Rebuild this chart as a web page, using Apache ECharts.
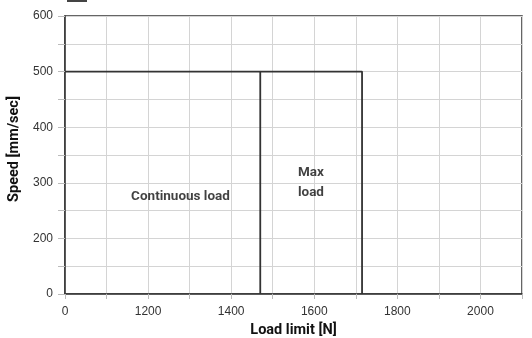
<!DOCTYPE html>
<html><head><meta charset="utf-8">
<script src="https://cdn.jsdelivr.net/npm/echarts@6/dist/echarts.min.js"></script>
<style>html,body{margin:0;padding:0;background:#fff}#c{width:532px;height:338px}</style>
</head><body><div id="c"></div>
<script>
// Axis positions (broken axes: first x position 1000 shown as "0", first y position 100 shown as "0")
const xAxisStart = 1000, xAxisEnd = 2100, xStep = 100;
const yAxisStart = 100, yAxisEnd = 600, yStep = 50;
const xTickLabels = {1000: '0', 1200: '1200', 1400: '1400', 1600: '1600', 1800: '1800', 2000: '2000'};
const yTickLabels = {100: '0', 200: '200', 300: '300', 400: '400', 500: '500', 600: '600'};
// Load limits [N] and speed [mm/sec]
const continuousLoadX = [1000, 1470, 1470];
const continuousLoadY = [500, 500, 100];
const maxLoadX = [1470, 1715, 1715];
const maxLoadY = [500, 500, 100];
const regionNames = ['Continuous load', 'Max\nload'];
const regionLabelX = [1278, 1592];
const regionLabelY = [276, 300];

const dark = '#333333';
const chart = echarts.init(document.getElementById('c'));
const zip = (a, b) => a.map((v, i) => [v, b[i]]);
chart.setOption({
  animation: false,
  grid: {left: 65, right: 10, top: 16, bottom: 44, show: true, borderColor: dark, borderWidth: 1.5,
    containLabel: false, outerBoundsMode: 'none'},
  xAxis: {
    type: 'value', min: xAxisStart, max: xAxisEnd, interval: xStep,
    name: 'Load limit [N]', nameLocation: 'middle', nameGap: 28,
    nameTextStyle: {fontFamily: 'Roboto', fontWeight: 'bold', fontSize: 14.5, color: '#111'},
    axisLine: {show: true, lineStyle: {color: dark, width: 1.5}},
    axisTick: {show: true, length: 5, lineStyle: {color: '#bbb'}},
    axisLabel: {margin: 12, fontFamily: 'Liberation Sans', fontSize: 12, color: '#333',
      formatter: v => xTickLabels[v] !== undefined ? xTickLabels[v] : ''},
    splitLine: {show: true, lineStyle: {color: '#d4d4d4', width: 1}}
  },
  yAxis: {
    type: 'value', min: yAxisStart, max: yAxisEnd, interval: yStep,
    name: 'Speed [mm/sec]', nameLocation: 'middle', nameGap: 40,
    nameTextStyle: {fontFamily: 'Roboto', fontWeight: 'bold', fontSize: 14.5, color: '#111', padding: [0, 0, 0, 12]},
    axisLine: {show: true, lineStyle: {color: dark, width: 1.5}},
    axisTick: {show: true, length: 7, lineStyle: {color: '#bbb'}},
    axisLabel: {margin: 12, fontFamily: 'Liberation Sans', fontSize: 12, color: '#333',
      formatter: v => yTickLabels[v] !== undefined ? yTickLabels[v] : ''},
    splitLine: {show: true, lineStyle: {color: '#d4d4d4', width: 1}}
  },
  graphic: [{type: 'rect', shape: {x: 67, y: -6, width: 20, height: 8}, style: {fill: '#444'}}],
  series: [
    {type: 'line', data: zip(continuousLoadX, continuousLoadY), symbol: 'none',
      lineStyle: {color: dark, width: 1.8}},
    {type: 'line', data: zip(maxLoadX, maxLoadY), symbol: 'none',
      lineStyle: {color: dark, width: 1.8}},
    {type: 'scatter', symbolSize: 0, data: zip(regionLabelX, regionLabelY).map((p, i) => ({value: p, name: regionNames[i]})),
      label: {show: true, position: 'inside', formatter: p => p.name, fontFamily: 'Roboto', fontWeight: 'bold',
        fontSize: 13.5, color: '#111', lineHeight: 20}}
  ]
});
</script></body></html>
